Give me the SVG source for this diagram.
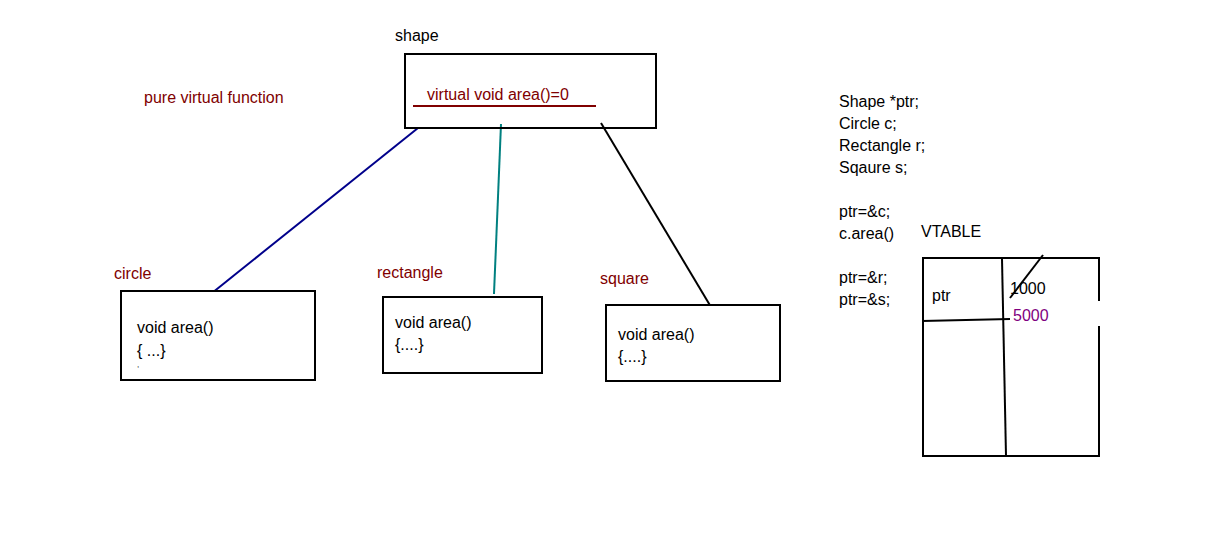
<svg xmlns="http://www.w3.org/2000/svg" width="1220" height="540" viewBox="0 0 1220 540">
<style>
text { font-family: "Liberation Sans", Arial, sans-serif; font-size: 16px; fill: #000; }
.red { fill: #800000; }
.pur { fill: #800080; }
.box { fill: #fff; stroke: #000; stroke-width: 2; }
.ln { fill: none; stroke: #000; stroke-width: 2; }
</style>
<rect width="1220" height="540" fill="#fff"/>
<g id="connectors">
  <line x1="418" y1="128" x2="212" y2="293" stroke="#00008b" stroke-width="2"/>
  <line x1="501" y1="124" x2="494" y2="294" stroke="#008080" stroke-width="2"/>
  <line x1="601" y1="123" x2="711" y2="307" stroke="#000" stroke-width="2"/>
</g>
<g id="shape">
  <text x="395" y="41">shape</text>
  <rect class="box" x="405" y="54" width="251" height="74" fill-opacity="0"/>
  <text class="red" x="427" y="100">virtual void area()=0</text>
  <line x1="413" y1="106" x2="596" y2="106" stroke="#800000" stroke-width="2"/>
</g>
<g id="pure-virtual-label">
  <text class="red" x="144" y="103">pure virtual function</text>
</g>
<g id="circle">
  <text class="red" x="114" y="279">circle</text>
  <rect class="box" x="121" y="291" width="194" height="89"/>
  <text x="137" y="333">void area()</text>
  <text x="137" y="356">{ ...}</text>
  <text x="137" y="367" style="font-size:8px">,</text>
</g>
<g id="rectangle">
  <text class="red" x="377" y="278">rectangle</text>
  <rect class="box" x="383" y="297" width="159" height="76"/>
  <text x="395" y="328">void area()</text>
  <text x="395" y="350">{....}</text>
</g>
<g id="square">
  <text class="red" x="600" y="284">square</text>
  <rect class="box" x="606" y="305" width="174" height="76"/>
  <text x="618" y="340">void area()</text>
  <text x="618" y="362">{....}</text>
</g>
<g id="code">
  <text x="839" y="107">Shape *ptr;</text>
  <text x="839" y="129">Circle c;</text>
  <text x="839" y="151">Rectangle r;</text>
  <text x="839" y="173">Sqaure s;</text>
  <text x="839" y="217">ptr=&amp;c;</text>
  <text x="839" y="239">c.area()</text>
  <text x="839" y="283">ptr=&amp;r;</text>
  <text x="839" y="305">ptr=&amp;s;</text>
</g>
<g id="vtable">
  <text x="921" y="237">VTABLE</text>
  <polyline class="ln" points="1099,301 1099,258 923,258 923,456 1099,456 1099,326"/>
  <line class="ln" x1="1002" y1="259" x2="1006" y2="456"/>
  <line class="ln" x1="922" y1="321" x2="1010" y2="319"/>
  <text x="932" y="301">ptr</text>
  <text x="1010" y="294">1000</text>
  <line class="ln" x1="1010" y1="298" x2="1043" y2="255"/>
  <text class="pur" x="1013" y="321">5000</text>
</g>
</svg>
